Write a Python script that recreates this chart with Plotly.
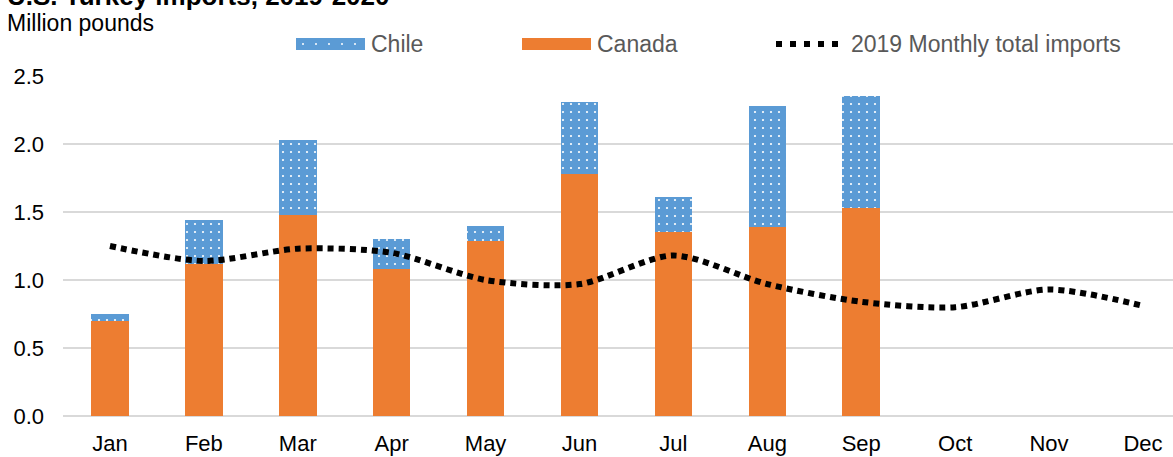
import plotly.graph_objects as go

# Monthly turkey imports, million pounds
months = ["Jan", "Feb", "Mar", "Apr", "May", "Jun", "Jul", "Aug", "Sep", "Oct", "Nov", "Dec"]
bar_months = months[:9]
canada = [0.70, 1.12, 1.48, 1.08, 1.29, 1.78, 1.35, 1.39, 1.53]
chile = [0.05, 0.32, 0.55, 0.22, 0.11, 0.53, 0.26, 0.89, 0.82]
total_2019 = [1.25, 1.14, 1.23, 1.20, 1.00, 0.97, 1.18, 0.97, 0.84, 0.80, 0.93, 0.81]

y_ticks = [0.0, 0.5, 1.0, 1.5, 2.0, 2.5]

W, H = 1173, 457
ML, MR, MT, MB = 63, 0, 76, 41
PW, PH = W - ML - MR, H - MT - MB

BLUE = "#5B9BD5"
ORANGE = "#ED7D31"
GRID = "#d9d9d9"
LEG_TXT = "#595959"
FONT = "Liberation Sans, Arial, sans-serif"
FS = 22


def px_x(p):
    return (p - ML) / PW


def px_y(p):
    return (H - MB - p) / PH


fig = go.Figure()

fig.add_trace(go.Bar(
    x=bar_months, y=canada, name="Canada",
    marker=dict(color=ORANGE, line=dict(width=0)),
    width=0.4, showlegend=False,
))
fig.add_trace(go.Bar(
    x=bar_months, y=chile, name="Chile",
    marker=dict(
        color=BLUE, line=dict(width=0),
        pattern=dict(shape=".", fgcolor="white", bgcolor=BLUE,
                     fillmode="replace", size=8, solidity=0.06),
    ),
    width=0.4, showlegend=False,
))
fig.add_trace(go.Scatter(
    x=months, y=total_2019, name="2019 Monthly total imports",
    mode="lines", line=dict(color="black", width=6, dash="6px,5px",
                            shape="spline", smoothing=0.8),
    showlegend=False,
))

shapes = []
annotations = []

# Legend swatches and labels
leg_y = 44
shapes.append(dict(type="rect", xref="paper", yref="paper",
                   x0=px_x(296), x1=px_x(365), y0=px_y(50), y1=px_y(38),
                   fillcolor=BLUE, line=dict(width=0)))
for cx in [303, 316, 329, 342, 355]:
    shapes.append(dict(type="circle", xref="paper", yref="paper",
                       x0=px_x(cx - 1), x1=px_x(cx + 1),
                       y0=px_y(leg_y + 1), y1=px_y(leg_y - 1),
                       fillcolor="white", line=dict(width=0)))
shapes.append(dict(type="rect", xref="paper", yref="paper",
                   x0=px_x(522), x1=px_x(591), y0=px_y(50), y1=px_y(38),
                   fillcolor=ORANGE, line=dict(width=0)))
shapes.append(dict(type="line", xref="paper", yref="paper",
                   x0=px_x(776), x1=px_x(846), y0=px_y(leg_y), y1=px_y(leg_y),
                   line=dict(color="black", width=6, dash="6px,8px")))

for txt, xp in [("Chile", 369), ("Canada", 595), ("2019 Monthly total imports", 849)]:
    annotations.append(dict(text=txt, xref="paper", yref="paper",
                            x=px_x(xp), y=px_y(leg_y), xanchor="left", yanchor="middle",
                            showarrow=False, font=dict(size=23, color=LEG_TXT, family=FONT)))

annotations.append(dict(text="<b>U.S. Turkey imports, 2019-2020</b>", xref="paper", yref="paper",
                        x=px_x(5), y=px_y(13), xanchor="left", yanchor="bottom",
                        showarrow=False, font=dict(size=26, color="black", family=FONT)))
annotations.append(dict(text="Million pounds", xref="paper", yref="paper",
                        x=px_x(5), y=px_y(23), xanchor="left", yanchor="middle",
                        showarrow=False, font=dict(size=23, color="black", family=FONT)))

fig.update_layout(
    width=W, height=H,
    margin=dict(l=ML, r=MR, t=MT, b=MB, pad=0),
    barmode="stack",
    plot_bgcolor="white", paper_bgcolor="white",
    font=dict(family=FONT, size=FS, color="black"),
    shapes=shapes, annotations=annotations,
    showlegend=False,
)
fig.update_xaxes(
    type="category", categoryorder="array", categoryarray=months,
    range=[-0.5, 11.32], showgrid=False, showline=False, ticks="",
    ticklabelstandoff=12,
    tickfont=dict(size=FS, color="black"),
)
fig.update_yaxes(
    range=[0, 2.5], tickvals=y_ticks, tickformat=".1f",
    showgrid=True, gridcolor=GRID, gridwidth=2,
    zeroline=True, zerolinecolor=GRID, zerolinewidth=2,
    showline=False, ticks="", ticklabelstandoff=18,
    tickfont=dict(size=FS, color="black"),
)

fig.write_html("out.html")
